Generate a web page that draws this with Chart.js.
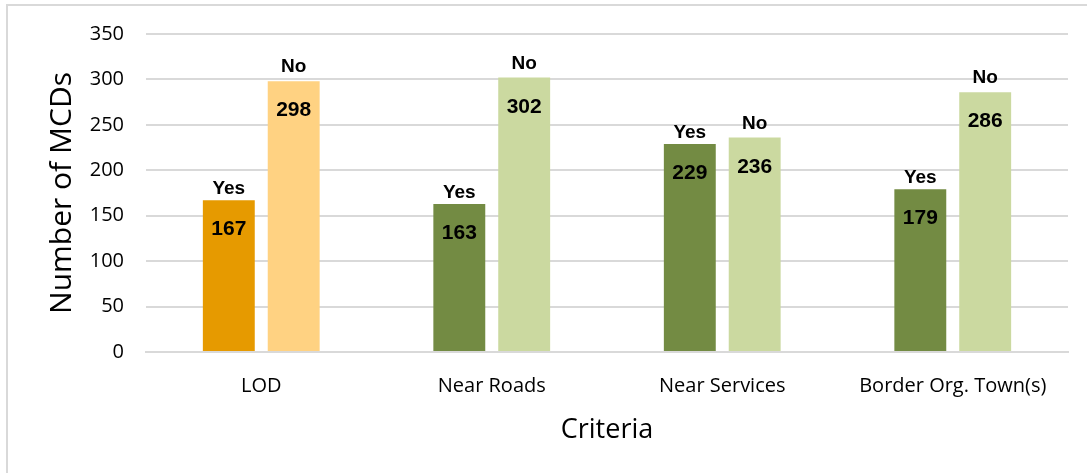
<!DOCTYPE html>
<html>
<head>
<meta charset="utf-8">
<script src="https://cdn.jsdelivr.net/npm/chart.js@4"></script>
<style>
  html, body { margin: 0; padding: 0; background: #fff; overflow: hidden; }
  #wrap { position: relative; width: 1087px; height: 473px; }
  #frame { position: absolute; left: 6px; top: 4px; right: 0; bottom: 0; border-top: 2px solid #D9D9D9; border-left: 2px solid #D9D9D9; pointer-events: none; }
</style>
</head>
<body>
<div id="wrap">
  <canvas id="myChart" width="1087" height="473"></canvas>
  <div id="frame"></div>
</div>
<script>
// dữ liệu
var categories = ['LOD', 'Near Roads', 'Near Services', 'Border Org. Town(s)'];
var yesValues = [167, 163, 229, 179];
var noValues = [298, 302, 236, 286];
var yTicks = [0, 50, 100, 150, 200, 250, 300, 350];

var yesColors = ['#E69A00', '#738B43', '#738B43', '#738B43'];
var noColors = ['#FFD282', '#CBD9A0', '#CBD9A0', '#CBD9A0'];

// vẽ nhãn "Yes"/"No" trên cột và giá trị bên trong cột
var barLabels = {
    id: 'barLabels',
    afterDatasetsDraw: function(chart) {
        var ctx = chart.ctx;
        ctx.save();
        ctx.fillStyle = '#000';
        ctx.textAlign = 'center';
        ctx.textBaseline = 'alphabetic';
        chart.data.datasets.forEach(function(ds, i) {
            chart.getDatasetMeta(i).data.forEach(function(bar, j) {
                ctx.font = 'bold 19px "Liberation Sans", Arial, sans-serif';
                ctx.fillText(ds.label, bar.x, bar.y - (i === 0 ? 6 : 9));
                ctx.font = 'bold 21px "Liberation Sans", Arial, sans-serif';
                ctx.fillText(ds.data[j], bar.x, bar.y + 35);
            });
        });
        ctx.restore();
    }
};

window.onload = function() {
    var ctx = document.getElementById('myChart').getContext('2d');
    var myChart = new Chart(ctx, {
        type: 'bar',
        data: {
            labels: categories,
            datasets: [{
                label: 'Yes',
                data: yesValues,
                backgroundColor: yesColors
            }, {
                label: 'No',
                data: noValues,
                backgroundColor: noColors
            }]
        },
        options: {
            responsive: false,
            animation: false,
            categoryPercentage: 0.563,
            barPercentage: 0.8,
            layout: { padding: { left: 0, right: 19, top: 21, bottom: 0 } },
            plugins: {
                legend: { display: false },
                tooltip: { enabled: false }
            },
            scales: {
                x: {
                    afterFit: function(axis) { axis.height = 121; },
                    grid: { display: false },
                    border: { color: '#D9D9D9', width: 2 },
                    ticks: { color: '#000', font: { family: 'Open Sans', size: 20 }, padding: 14 },
                    title: { display: true, text: 'Criteria', color: '#000', font: { family: 'Open Sans', size: 27 }, padding: { top: 0, bottom: 26 } }
                },
                y: {
                    min: 0,
                    max: 350,
                    afterFit: function(axis) { axis.width = 146; },
                    afterBuildTicks: function(axis) {
                        axis.ticks = yTicks.map(function(v) { return { value: v }; });
                    },
                    grid: { color: '#D9D9D9', lineWidth: 2, drawTicks: false },
                    border: { display: false },
                    ticks: { color: '#000', font: { family: 'Open Sans', size: 20 }, padding: 22 },
                    title: { display: true, text: 'Number of MCDs', color: '#000', font: { family: 'Open Sans', size: 30 }, padding: { top: 44, bottom: 0 } }
                }
            }
        },
        plugins: [barLabels]
    });
};
</script>
</body>
</html>
